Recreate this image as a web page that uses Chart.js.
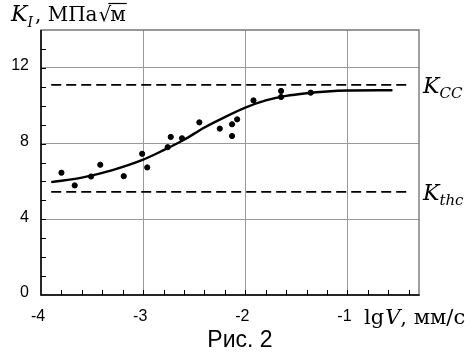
<!DOCTYPE html>
<html>
<head>
<meta charset="utf-8">
<script src="https://cdn.jsdelivr.net/npm/chart.js@4"></script>
<style>
  html, body { margin: 0; padding: 0; background: #fff; }
  #wrap { width: 476px; height: 353px; position: relative; }
</style>
</head>
<body>
<div id="wrap"><canvas id="chart"></canvas></div>
<script>
// --- data ---
const curveX = [-3.9, -3.6, -3.3, -3.0, -2.8, -2.6, -2.4, -2.2, -2.0, -1.8, -1.6, -1.4, -1.2, -1.0, -0.56];
const curveY = [5.96, 6.2, 6.6, 7.15, 7.65, 8.2, 8.85, 9.4, 9.9, 10.28, 10.52, 10.66, 10.75, 10.8, 10.82];

const pointsX = [-3.80, -3.67, -3.51, -3.42, -3.19, -3.01, -2.96, -2.76, -2.73, -2.62, -2.45, -2.25, -2.13, -2.13, -2.08, -1.92, -1.65, -1.65, -1.36];
const pointsY = [6.46, 5.79, 6.26, 6.88, 6.28, 7.46, 6.74, 7.81, 8.35, 8.28, 9.12, 8.79, 9.02, 8.4, 9.28, 10.28, 10.78, 10.46, 10.69];

const kccLevel = 11.1;
const kthcLevel = 5.45;
const dashFrom = -3.9;
const dashTo = -0.42;

const yTickLabels = [0, 4, 8, 12];
const xTickLabels = [-4, -3, -2, -1];

const toXY = (xs, ys) => xs.map((x, i) => ({ x: x, y: ys[i] }));

// --- plugin: grey frame drawn before the datasets ---
const frame = {
  id: "frame",
  beforeDatasetsDraw(chart) {
    const ctx = chart.ctx;
    const a = chart.chartArea;
    ctx.save();
    ctx.setLineDash([]);
    ctx.strokeStyle = "#777";
    ctx.lineWidth = 1.4;
    ctx.beginPath();
    ctx.rect(a.left, a.top, a.right - a.left, a.bottom - a.top);
    ctx.stroke();
    ctx.restore();
  },
};

// --- plugin: axes on top, inner ticks and all text ---
const decorations = {
  id: "decorations",
  afterDraw(chart) {
    const ctx = chart.ctx;
    const xs = chart.scales.x, ys = chart.scales.y;
    const a = chart.chartArea;
    ctx.save();
    ctx.setLineDash([]);

    // black left/bottom axes
    ctx.strokeStyle = "#000";
    ctx.lineWidth = 1.5;
    ctx.beginPath();
    ctx.moveTo(a.left, a.top);
    ctx.lineTo(a.left, a.bottom);
    ctx.lineTo(a.right + 0.7, a.bottom);
    ctx.stroke();

    // inward minor ticks
    ctx.lineWidth = 1;
    ctx.beginPath();
    for (let v = 1; v < 14; v++) {
      const py = Math.round(ys.getPixelForValue(v)) + 0.5;
      ctx.moveTo(a.left, py);
      ctx.lineTo(a.left + 5, py);
    }
    for (let i = 1; i * 0.2 < 3.7; i++) {
      const px = Math.round(xs.getPixelForValue(-4 + i * 0.2)) + 0.5;
      ctx.moveTo(px, a.bottom);
      ctx.lineTo(px, a.bottom - 5);
    }
    ctx.stroke();

    // tick labels
    ctx.fillStyle = "#000";
    ctx.font = "16px Arial, 'Liberation Sans', sans-serif";
    ctx.textAlign = "right";
    ctx.textBaseline = "middle";
    yTickLabels.forEach((v) => {
      ctx.fillText(String(v), a.left - 12, ys.getPixelForValue(v) - 2);
    });
    ctx.textAlign = "center";
    xTickLabels.forEach((v) => {
      ctx.fillText(String(v), xs.getPixelForValue(v) - 3, a.bottom + 22);
    });

    const serif = "'DejaVu Serif', 'Liberation Serif', serif";

    // x axis title: lg V, мм/с
    ctx.textAlign = "left";
    ctx.textBaseline = "alphabetic";
    let x = 364, y = 324;
    ctx.font = "21px " + serif;
    ctx.fillText("lg", x, y);
    x += ctx.measureText("lg").width + 1;
    ctx.font = "italic 21px " + serif;
    ctx.fillText("V", x, y);
    x += ctx.measureText("V").width;
    ctx.font = "21px " + serif;
    ctx.fillText(", мм/с", x, y);

    // y axis title: K_I, МПа√м
    x = 11; y = 21;
    ctx.font = "italic 22px " + serif;
    ctx.fillText("K", x, y);
    x += ctx.measureText("K").width;
    ctx.font = "italic 14px " + serif;
    ctx.fillText("I", x, y + 6);
    x += ctx.measureText("I").width + 2;
    ctx.font = "20px " + serif;
    ctx.fillText(", МПа", x, y);
    x += ctx.measureText(", МПа").width + 1;
    ctx.fillText("√", x, y);
    x += ctx.measureText("√").width - 1;
    ctx.fillText("м", x, y);
    const mw = ctx.measureText("м").width;
    ctx.lineWidth = 1.2;
    ctx.beginPath();
    ctx.moveTo(x - 2, y - 17.5);
    ctx.lineTo(x + mw + 1, y - 17.5);
    ctx.stroke();

    // K_CC and K_thc labels
    const labelK = (sub, v) => {
      let lx = a.right + 4;
      const ly = ys.getPixelForValue(v) + 8;
      ctx.font = "italic 22px " + serif;
      ctx.fillText("K", lx, ly);
      lx += ctx.measureText("K").width;
      ctx.font = "italic 15px " + serif;
      ctx.fillText(sub, lx, ly + 5);
    };
    labelK("CC", kccLevel);
    labelK("thc", kthcLevel);

    // caption
    ctx.font = "23px Arial, 'Liberation Sans', sans-serif";
    ctx.textAlign = "center";
    ctx.textBaseline = "alphabetic";
    ctx.fillText("Рис. 2", 240, 347);

    ctx.restore();
  },
};

new Chart(document.getElementById("chart"), {
  type: "scatter",
  data: {
    datasets: [
      {
        type: "line",
        data: toXY([dashFrom, dashTo], [kccLevel, kccLevel]),
        borderColor: "#000",
        borderWidth: 1.6,
        borderDash: [10, 5],
        pointRadius: 0,
      },
      {
        type: "line",
        data: toXY([dashFrom, dashTo], [kthcLevel, kthcLevel]),
        borderColor: "#000",
        borderWidth: 1.6,
        borderDash: [10, 5],
        pointRadius: 0,
      },
      {
        type: "line",
        data: toXY(curveX, curveY),
        borderColor: "#000",
        borderWidth: 2.4,
        cubicInterpolationMode: "monotone",
        pointRadius: 0,
      },
      {
        data: toXY(pointsX, pointsY),
        backgroundColor: "#000",
        borderColor: "#000",
        pointRadius: 2.6,
      },
    ],
  },
  options: {
    responsive: true,
    maintainAspectRatio: false,
    animation: false,
    layout: { padding: { left: 41, right: 57, top: 30, bottom: 58 } },
    plugins: { legend: { display: false }, tooltip: { enabled: false } },
    scales: {
      x: {
        type: "linear",
        min: -4,
        max: -0.3,
        ticks: { display: false, stepSize: 1 },
        grid: {
          drawTicks: false,
          color: (c) => (c.tick && c.tick.value > -4 && c.tick.value < -0.5 ? "#999" : "rgba(0,0,0,0)"),
        },
        border: { display: false },
      },
      y: {
        min: 0,
        max: 14,
        ticks: { display: false, stepSize: 4 },
        grid: {
          drawTicks: false,
          color: (c) => (c.tick && c.tick.value > 0 && c.tick.value < 13 ? "#999" : "rgba(0,0,0,0)"),
        },
        border: { display: false },
      },
    },
  },
  plugins: [frame, decorations],
});
</script>
</body>
</html>
